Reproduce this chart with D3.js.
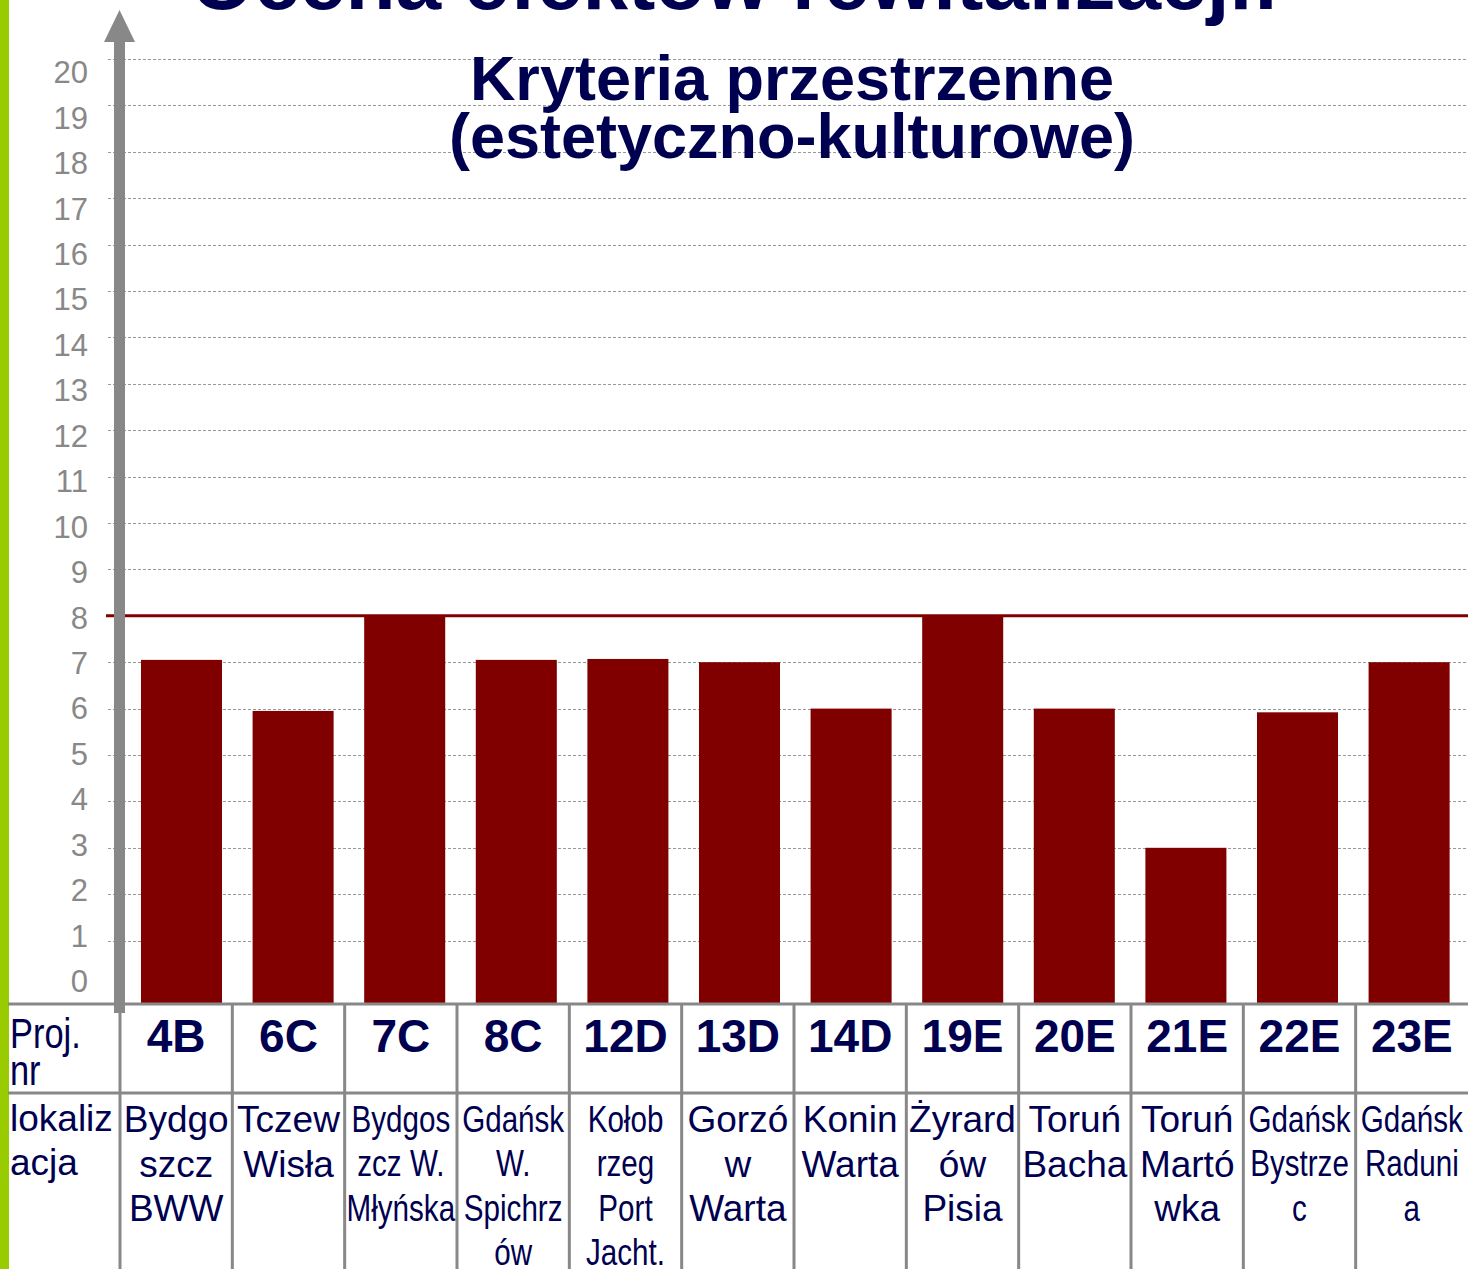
<!DOCTYPE html>
<html>
<head>
<meta charset="utf-8">
<script src="https://cdn.jsdelivr.net/npm/d3@7"></script>
<style>
  body { margin: 0; background: #fff; }
  svg text { font-family: "Liberation Sans", Arial, sans-serif; }
</style>
</head>
<body>
<script>
// project codes and scores
const codes = ["4B", "6C", "7C", "8C", "12D", "13D", "14D", "19E", "20E", "21E", "22E", "23E"];
const scores = [7.05, 5.95, 8, 7.05, 7.07, 7, 6, 8, 6, 3, 5.92, 7];
// location labels, already broken into lines as on the slide
const places = [
  ["Bydgo", "szcz", "BWW"],
  ["Tczew", "Wisła"],
  ["Bydgos", "zcz W.", "Młyńska"],
  ["Gdańsk", "W.", "Spichrz", "ów"],
  ["Kołob", "rzeg", "Port", "Jacht."],
  ["Gorzó", "w", "Warta"],
  ["Konin", "Warta"],
  ["Żyrard", "ów", "Pisia"],
  ["Toruń", "Bacha"],
  ["Toruń", "Martó", "wka"],
  ["Gdańsk", "Bystrze", "c"],
  ["Gdańsk", "Raduni", "a"]
];
const yTicks = d3.range(0, 21);
const threshold = 8;

const W = 1468, H = 1269;
const navy = "#000050", gray = "#888888", barColor = "#800000";
// columns whose text is squeezed horizontally in the original
const squeezed = ["7C", "8C", "12D", "22E", "23E"];

const svg = d3.select("body").append("svg")
  .attr("width", W)
  .attr("height", H);

// green strip on the left edge
svg.append("rect")
  .attr("x", 0).attr("y", 0)
  .attr("width", 9).attr("height", H)
  .attr("fill", "#99cc00");

const tableTop = 1004, rowSplit = 1093;

// scales
const y = d3.scaleLinear().domain([0, 20]).range([987, 59]);
const yLabel = d3.scaleLinear().domain([0, 20]).range([981, 72]);
const col = d3.scaleBand().domain(codes).range([120, W]);
const x = d3.scaleBand().domain(codes).range([125.7, 1464.9])
  .paddingInner(0.274).paddingOuter(0.137);

// dashed grid
svg.append("g").selectAll("line")
  .data(yTicks.filter(d => d > 0))
  .enter().append("line")
  .attr("x1", 108).attr("x2", W)
  .attr("y1", d => Math.round(y(d)) + 0.5)
  .attr("y2", d => Math.round(y(d)) + 0.5)
  .attr("stroke", "#999")
  .attr("stroke-width", 1)
  .attr("stroke-dasharray", "3,2");

// tick labels
svg.append("g").selectAll("text")
  .data(yTicks)
  .enter().append("text")
  .attr("x", 88)
  .attr("y", d => yLabel(d))
  .attr("dy", "0.36em")
  .attr("text-anchor", "end")
  .attr("font-size", 31)
  .attr("fill", gray)
  .text(d => d);

// bars
const bars = codes.map((c, i) => ({ code: c, value: scores[i] }));
svg.append("g").selectAll("rect")
  .data(bars)
  .enter().append("rect")
  .attr("x", d => x(d.code))
  .attr("y", d => y(d.value))
  .attr("width", x.bandwidth())
  .attr("height", d => tableTop - y(d.value))
  .attr("fill", barColor);

// threshold line
svg.append("line")
  .attr("x1", 106).attr("x2", W)
  .attr("y1", y(threshold)).attr("y2", y(threshold))
  .attr("stroke", barColor)
  .attr("stroke-width", 3);

// table lines
const table = svg.append("g")
  .attr("stroke", gray)
  .attr("stroke-width", 3);
table.append("line").attr("x1", 8).attr("x2", W).attr("y1", tableTop).attr("y2", tableTop);
table.append("line").attr("x1", 8).attr("x2", W).attr("y1", rowSplit).attr("y2", rowSplit);
table.selectAll(".v")
  .data(codes)
  .enter().append("line")
  .attr("x1", d => col(d)).attr("x2", d => col(d))
  .attr("y1", tableTop).attr("y2", H);

// gray arrow axis
svg.append("rect")
  .attr("x", 114).attr("y", 40)
  .attr("width", 11).attr("height", 1013 - 40)
  .attr("fill", gray);
svg.append("path")
  .attr("d", "M119.5,10 L135,42 L104,42 Z")
  .attr("fill", gray);

// header column
const head = svg.append("g").attr("fill", navy);
head.append("text")
  .attr("transform", "translate(10,1048) scale(0.8,1)")
  .attr("font-size", 43)
  .text("Proj.");
head.append("text")
  .attr("transform", "translate(10,1085) scale(0.8,1)")
  .attr("font-size", 43)
  .text("nr");
head.append("text")
  .attr("x", 10).attr("y", 1131)
  .attr("font-size", 37)
  .text("lokaliz");
head.append("text")
  .attr("x", 10).attr("y", 1175)
  .attr("font-size", 37)
  .text("acja");

// project codes
svg.append("g").selectAll("text")
  .data(codes)
  .enter().append("text")
  .attr("x", d => col(d) + col.bandwidth() / 2)
  .attr("y", 1052)
  .attr("text-anchor", "middle")
  .attr("font-size", 46)
  .attr("font-weight", "bold")
  .attr("fill", navy)
  .text(d => d);

// locations
const cells = svg.append("g").selectAll("g")
  .data(codes)
  .enter().append("g")
  .attr("transform", (d, i) => {
    const cx = col(d) + col.bandwidth() / 2;
    const k = squeezed.includes(d) ? 0.8 : 1;
    return `translate(${cx},0) scale(${k},1)`;
  });
cells.selectAll("text")
  .data((d, i) => places[i])
  .enter().append("text")
  .attr("x", 0)
  .attr("y", (d, j) => 1132 + j * 44.5)
  .attr("text-anchor", "middle")
  .attr("font-size", 37)
  .attr("fill", navy)
  .text(d => d);

// titles
svg.append("text")
  .attr("x", 735).attr("y", 9)
  .attr("text-anchor", "middle")
  .attr("font-size", 82)
  .attr("font-weight", "bold")
  .attr("fill", navy)
  .text("Ocena efektów rewitalizacji:");
const sub = svg.append("text")
  .attr("text-anchor", "middle")
  .attr("font-size", 63)
  .attr("font-weight", "bold")
  .attr("fill", navy);
sub.append("tspan").attr("x", 792).attr("y", 100).text("Kryteria przestrzenne");
sub.append("tspan").attr("x", 792).attr("y", 158).text("(estetyczno-kulturowe)");
</script>
</body>
</html>
